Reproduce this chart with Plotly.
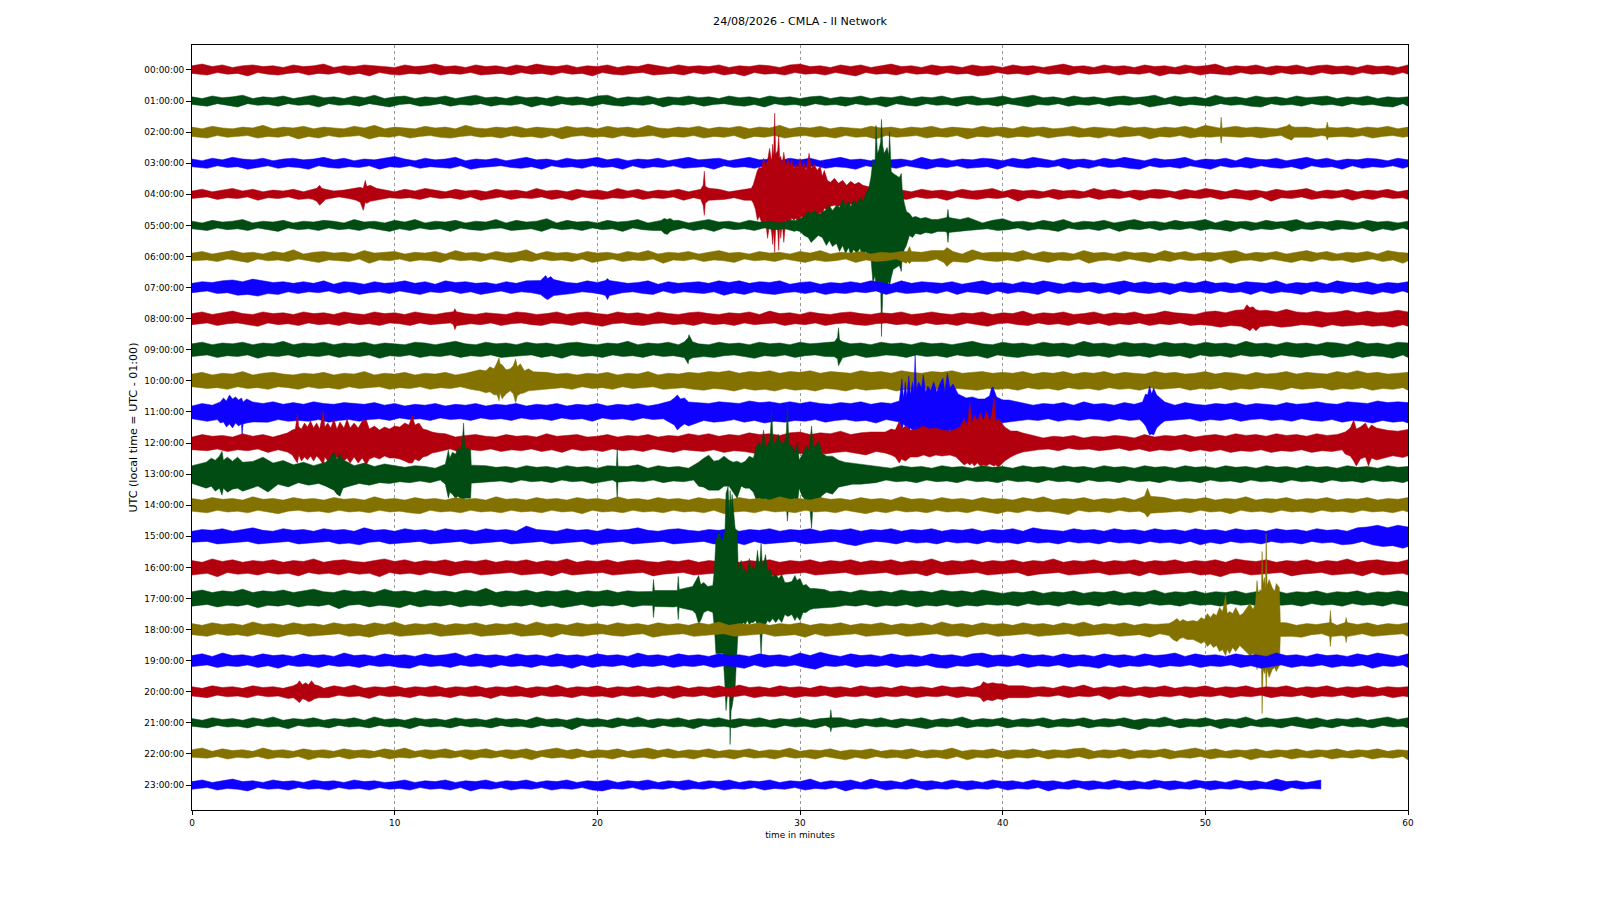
import plotly.graph_objects as go

title = "24/08/2026 - CMLA - II Network"
hour_labels = ["00:00:00", "01:00:00", "02:00:00", "03:00:00", "04:00:00", "05:00:00",
               "06:00:00", "07:00:00", "08:00:00", "09:00:00", "10:00:00", "11:00:00",
               "12:00:00", "13:00:00", "14:00:00", "15:00:00", "16:00:00", "17:00:00",
               "18:00:00", "19:00:00", "20:00:00", "21:00:00", "22:00:00", "23:00:00"]
minute_ticks = [0, 10, 20, 30, 40, 50, 60]
row_colors = ["#B2000F", "#004C12", "#847200", "#0E01FF"]

# envelope of each hour, one value per half minute (counts above / below the line)
up_00 = [5,7,4,6,3,5,6,4,5,3, 6,4,5,7,3,5,4,6,5,4, 3,6,4,5,7,4,5,3,6,4, 5,3,6,4,7,5,4,6,3,5, 4,6,3,5,4,7,5,3,6,4, 5,4,6,3,5,4,6,5,3,6, 7,4,5,3,6,4,6,3,5,7, 4,5,3,6,4,5,3,6,4,5, 3,6,4,5,3,5,7,4,5,3, 6,4,5,3,6,4,5,3,6,4, 5,7,3,5,4,6,3,5,4,6, 3,5,6,4,5,3,6,4,5,3,6]
lo_00 = [4,6,3,5,4,7,3,5,6,4, 3,6,4,5,3,6,4,7,3,5, 6,4,5,3,6,4,5,3,6,5, 4,6,3,5,4,6,3,5,4,7, 3,5,6,4,3,6,5,4,6,3, 5,3,6,4,7,3,5,4,6,3, 5,4,6,3,5,7,3,5,4,6, 3,5,4,6,3,5,4,7,6,3, 5,4,6,3,5,4,6,3,5,4, 3,6,4,5,3,7,4,5,3,6, 4,5,6,3,5,4,6,3,5,4, 6,3,5,4,6,3,5,4,6,3,5]
up_01 = [5,3,6,4,5,7,3,5,4,6, 3,5,7,4,5,3,6,4,7,3, 5,6,3,5,4,6,3,5,7,4, 5,3,6,4,5,3,6,4,5,3, 6,7,3,5,4,6,3,5,4,6, 4,5,3,6,4,5,3,6,4,5, 3,5,6,3,5,4,6,3,5,4, 6,3,5,4,6,3,5,6,3,4, 6,3,5,7,4,5,3,6,4,5, 3,5,6,4,5,7,3,6,4,5, 3,7,4,5,3,6,4,5,3,6, 4,5,6,3,5,4,6,3,5,4,5]
lo_01 = [4,6,3,5,7,3,5,4,6,3, 5,4,7,3,5,4,6,3,5,7, 4,3,6,5,3,6,4,5,3,6, 4,5,3,7,4,6,3,5,4,6, 3,5,6,4,5,3,7,4,5,3, 6,4,3,5,6,4,7,3,5,4, 6,3,5,4,6,3,5,4,7,3, 5,6,3,5,4,6,3,5,4,6, 3,5,7,4,5,3,6,4,5,3, 6,4,5,3,7,5,3,6,4,5, 6,3,5,4,6,7,3,5,4,6, 3,5,4,6,3,5,4,6,7,3,6]
up_02 = [6,4,7,5,4,6,5,8,4,6, 5,7,4,6,5,4,7,5,8,4, 6,5,4,7,5,6,4,8,5,4, 6,5,7,4,6,5,4,7,5,6, 4,7,5,6,4,8,5,4,6,5, 7,4,6,5,7,4,6,5,8,4, 6,5,7,4,6,5,4,7,5,6, 4,6,5,7,4,6,5,4,7,5, 6,4,7,5,6,4,5,7,4,6, 5,4,7,5,6,4,6,5,7,4, 8,5,4,7,5,6,5,4,9,5, 6,4,8,5,6,4,6,5,7,4,6]
lo_02 = [5,7,4,6,5,4,7,5,6,4, 8,5,7,4,6,5,4,8,5,6, 4,7,5,4,6,7,5,4,6,5, 7,4,6,5,7,4,8,5,4,6, 5,7,4,6,5,4,7,5,6,4, 7,5,6,4,8,5,6,4,7,5, 4,6,5,7,4,6,5,8,4,6, 5,4,7,5,6,4,8,5,6,4, 7,5,6,4,7,5,4,6,5,7, 4,6,5,4,8,5,6,4,7,5, 6,8,4,6,5,7,5,4,8,5, 6,4,8,5,6,4,7,5,4,6,5]
up_03 = [5,3,6,4,7,5,4,6,3,5, 6,4,5,7,4,6,3,5,4,6, 8,5,3,6,4,5,7,3,5,4, 6,3,5,7,4,5,3,6,4,5, 7,4,6,3,5,4,6,3,5,7, 4,5,6,3,5,7,4,5,3,6, 4,6,3,5,7,4,5,3,6,4, 5,3,7,4,6,3,5,4,6,5, 3,6,4,7,5,3,6,4,5,3, 6,4,7,5,3,6,4,5,7,3, 5,4,6,3,7,5,4,6,3,5, 7,4,6,3,5,4,6,5,3,6,4]
lo_03 = [4,6,3,5,4,7,5,3,6,4, 5,7,3,5,6,4,5,3,7,4, 5,3,6,4,5,6,3,7,5,4, 3,5,6,4,7,3,5,4,6,3, 5,4,7,3,6,4,5,3,6,5, 4,7,3,5,4,6,3,5,6,4, 5,3,6,4,5,7,3,5,4,6, 3,5,7,4,5,3,6,5,4,7, 3,5,6,4,5,3,7,4,6,3, 5,4,6,7,3,5,4,6,3,5, 7,3,5,4,6,3,5,6,4,7, 3,5,4,7,3,6,4,5,3,6,4]
up_04 = [4,6,3,5,7,4,6,3,5,4, 6,3,5,7,4,5,3,6,4,5, 3,6,4,7,5,3,6,4,5,3, 6,4,5,3,7,4,5,3,6,4, 5,3,7,4,6,3,5,4,6,3, 5,4,6,3,5,7,4,5,3,6, 7,6,8,5,9,5,7,5,6,4, 5,3,6,4,5,3,6,4,5,7, 3,6,4,5,3,6,4,5,3,7, 4,6,3,5,4,6,5,3,6,4, 7,5,3,6,4,5,3,6,4,5, 7,3,5,4,6,3,5,4,6,3,5]
lo_04 = [5,3,6,4,5,3,7,4,5,3, 6,5,4,6,3,5,7,3,6,4, 5,4,6,3,5,4,6,3,7,5, 3,6,4,5,3,6,4,7,3,5, 6,4,5,3,6,4,5,3,7,4, 5,3,6,4,7,3,5,4,6,3, 8,6,7,5,8,5,7,5,5,4, 6,3,5,4,7,3,5,6,4,5, 3,8,4,5,3,6,4,5,3,6, 4,5,3,7,4,5,3,6,4,5, 3,6,4,5,7,3,8,4,5,3, 6,4,5,3,7,4,6,3,5,4,6]
up_05 = [5,3,6,4,5,7,3,5,4,6, 3,5,4,6,5,3,7,4,5,3, 6,4,7,3,5,4,6,3,5,4, 7,3,6,4,5,8,3,6,4,5, 3,6,4,5,7,3,5,4,6,3, 5,7,4,5,3,6,4,5,3,6, 4,5,3,6,4,5,3,7,4,5, 5,4,6,3,5,4,6,5,3,6, 8,4,5,3,6,4,7,3,5,4, 6,3,5,7,4,5,3,6,4,5, 7,3,6,4,5,3,6,4,5,7, 3,5,4,6,5,3,6,4,5,3,5]
lo_05 = [4,6,3,5,4,6,3,5,7,3, 5,4,6,3,5,4,6,3,5,7, 4,6,3,5,4,7,3,5,6,4, 3,6,5,4,7,3,5,4,6,3, 5,4,7,3,5,6,4,5,3,6, 4,7,3,5,4,6,3,5,4,7, 3,6,4,5,3,6,4,5,3,6, 4,5,3,6,4,5,3,7,4,6, 5,3,6,4,5,7,3,5,4,6, 3,7,4,5,3,6,4,5,3,6, 4,5,7,3,6,4,5,3,7,4, 5,3,6,4,5,3,7,4,6,3,5]
up_06 = [4,6,3,5,7,4,5,3,6,4, 8,3,5,6,4,5,3,7,4,5, 6,3,5,4,6,3,7,4,5,3, 6,4,5,8,3,6,4,5,3,6, 4,5,3,6,4,7,3,5,4,6, 3,5,7,4,5,3,6,4,5,3, 6,4,7,3,5,4,6,3,5,4, 6,3,5,7,4,6,3,8,4,5, 5,4,7,3,6,4,5,3,7,4, 5,3,6,4,5,3,7,4,6,3, 5,4,6,7,3,5,4,6,3,5, 7,4,6,3,5,4,6,3,7,5,4]
lo_06 = [5,4,6,3,5,7,3,5,4,6, 3,5,7,4,5,6,3,8,4,5, 3,6,4,5,7,3,5,4,6,3, 5,7,4,6,3,5,4,6,3,7, 5,3,6,4,5,3,8,4,5,3, 6,4,5,7,3,5,4,6,3,5, 7,4,6,5,3,7,4,6,5,3, 8,4,6,3,5,4,7,3,5,6, 4,6,3,5,7,4,5,3,8,5, 4,6,3,5,7,4,6,3,5,4, 6,3,8,5,4,6,3,5,7,4, 6,3,5,4,7,5,3,6,4,8,5]
up_07 = [5,7,6,8,9,7,10,8,6,7, 5,7,5,8,4,7,6,4,7,5, 6,8,5,7,4,8,6,7,5,6, 4,7,5,8,6,7,4,6,5,8, 6,4,7,5,6,8,4,7,5,6, 7,5,8,6,8,5,7,6,8,4, 6,7,4,6,5,7,5,8,6,4, 8,5,7,6,5,7,4,6,8,5, 6,4,7,5,8,6,4,7,5,6, 4,6,8,5,7,5,6,4,7,5, 8,5,6,4,7,6,5,8,4,6, 5,7,4,8,6,5,7,4,6,5,7]
lo_07 = [6,4,7,6,9,8,10,7,8,5, 7,5,6,4,7,5,8,6,5,7, 4,6,8,5,6,4,7,5,8,6, 4,7,5,6,8,4,6,7,5,6, 8,4,6,5,7,8,4,7,5,6, 7,5,9,6,8,5,7,8,6,5, 7,5,8,6,7,5,6,4,8,5, 7,6,5,7,4,8,5,6,8,4, 7,5,6,8,4,7,5,6,4,7, 5,8,4,6,7,5,8,4,6,5, 7,4,6,5,8,4,7,5,6,8, 4,6,5,7,4,6,8,5,7,4,6]
up_08 = [6,8,5,7,9,6,5,8,6,7, 5,8,6,7,5,8,6,5,8,6, 7,5,8,6,5,7,9,6,5,7, 6,5,8,7,5,6,8,5,7,8, 6,5,8,6,7,5,8,6,5,7, 8,6,5,7,6,8,5,9,6,7, 5,8,6,5,7,8,6,5,7,6, 8,5,6,8,6,5,7,6,8,5, 7,6,9,5,7,6,8,5,6,8, 5,7,6,8,5,6,9,7,6,5, 8,9,7,10,9,7,10,8,11,8, 7,9,7,8,10,7,9,7,8,10,8]
lo_08 = [7,5,8,6,5,7,9,5,7,6, 8,5,7,6,8,5,7,6,8,5, 6,8,5,7,6,5,8,6,7,5, 8,6,5,7,8,5,6,8,5,7, 9,6,5,7,8,6,5,7,6,8, 5,7,6,8,5,7,6,5,8,6, 7,5,8,6,5,7,8,6,5,7, 6,8,5,7,6,8,5,7,9,6, 5,7,8,5,7,6,8,5,7,5, 8,6,7,5,8,6,7,5,8,7, 8,10,8,9,7,9,8,10,9,7, 8,10,7,9,8,7,9,8,10,7,9]
up_09 = [7,9,6,8,7,9,6,8,7,10, 6,8,7,9,6,8,7,9,6,8, 7,6,9,8,6,8,10,7,6,9, 7,8,6,9,7,8,6,8,9,7, 6,8,7,10,6,8,7,9,6,8, 7,6,9,7,8,6,9,7,8,6, 9,7,8,6,9,7,8,6,9,7, 8,6,9,7,8,6,8,10,7,6, 9,7,8,6,9,7,8,6,10,7, 8,6,9,7,8,6,9,7,8,6, 9,7,8,6,10,7,8,6,9,7, 8,6,9,8,6,10,7,8,6,9,8]
lo_09 = [8,6,9,7,8,6,10,7,8,6, 9,7,8,6,9,7,8,6,10,7, 8,6,9,7,8,6,9,7,8,6, 9,8,7,6,9,7,10,6,8,7, 9,6,8,7,9,6,8,7,9,6, 8,9,7,6,8,10,7,8,6,9, 7,6,8,9,7,6,9,8,6,7, 9,6,8,7,9,6,8,7,10,6, 8,9,7,6,8,7,9,6,8,7, 9,6,8,7,9,6,8,7,10,6, 8,7,9,6,8,7,9,6,8,9, 7,6,9,8,6,9,7,8,10,6,9]
up_10 = [8,10,7,9,8,11,7,9,10,8, 7,9,8,10,7,9,8,11,7,9, 8,10,7,9,8,10,7,9,11,8, 7,10,8,9,7,10,8,9,7,9, 8,10,7,9,8,11,7,9,8,10, 9,11,10,12,9,11,10,12,9,11, 10,12,9,11,10,9,12,10,11,9, 12,10,9,11,10,12,9,10,11,9, 10,9,11,8,10,9,11,8,10,9, 11,8,10,9,8,11,9,10,8,9, 11,8,10,9,7,10,8,9,11,8, 10,9,8,11,9,12,9,10,8,9,10]
lo_10 = [7,9,8,10,7,9,8,10,7,8, 10,7,9,8,10,7,9,8,7,10, 8,9,7,10,8,9,7,10,8,9, 7,9,10,8,7,9,8,10,7,9, 8,10,7,9,8,7,10,9,8,10, 11,9,10,12,9,11,10,12,9,11, 10,12,9,10,12,9,11,10,9,12, 10,11,9,10,12,9,10,11,9,10, 9,11,8,10,9,11,8,10,9,11, 8,10,9,11,8,10,9,8,11,9, 10,8,11,9,10,8,9,11,8,10, 9,8,11,9,10,8,11,9,10,8,11]
up_11 = [7,10,8,11,9,12,11,10,12,9, 11,9,12,10,9,11,10,9,11,8, 10,7,9,8,10,7,9,8,10,7, 9,8,10,7,9,8,10,7,9,8, 10,7,9,8,10,7,9,8,10,7, 11,10,12,11,10,13,11,12,10,12, 10,12,10,9,11,10,12,9,11,10, 9,11,10,12,9,13,10,9,11,10, 10,9,11,8,10,9,11,8,12,9, 10,8,11,9,8,10,9,8,11,9, 8,10,9,11,8,10,9,8,11,9, 10,12,10,9,12,11,10,13,11,12,11]
lo_11 = [8,11,9,12,10,11,10,12,9,11, 10,11,9,12,10,9,11,9,8,10, 7,9,8,10,7,9,8,10,7,9, 8,10,7,9,8,10,7,9,8,11, 7,9,8,10,7,9,8,10,7,9, 10,12,11,9,12,10,13,11,12,10, 11,9,12,10,9,11,10,13,9,11, 10,9,12,10,11,9,13,10,11,9, 8,11,9,10,8,11,9,10,8,9, 11,8,10,9,11,8,10,9,8,11, 9,10,8,11,9,8,10,9,11,8, 10,11,9,12,10,11,13,10,12,11,13]
up_12 = [7,10,8,9,7,11,8,10,7,9, 8,10,7,9,11,8,10,7,9,8, 8,10,7,9,8,11,7,9,10,8, 7,10,8,9,7,11,8,9,10,7, 8,10,7,9,8,10,7,9,8,11, 9,11,8,10,9,12,10,11,9,12, 13,10,12,11,14,10,12,13,10,12, 10,9,11,8,10,9,11,7,9,8, 6,8,7,9,6,8,7,9,6,8, 7,9,8,6,10,7,9,8,10,7, 9,10,8,11,9,10,8,11,9,10, 8,11,9,10,8,11,10,13,15,14,16]
lo_12 = [8,9,7,10,8,9,7,11,8,9, 7,10,8,9,7,10,8,9,7,10, 9,7,10,8,9,7,11,8,9,7, 10,8,9,7,10,8,11,7,9,8, 10,7,9,8,10,7,9,11,8,9, 10,8,11,9,10,12,9,11,10,13, 12,10,13,11,10,12,14,10,12,11, 11,9,10,8,11,9,10,7,9,8, 7,9,6,8,7,9,6,8,7,9, 8,6,9,7,10,8,9,7,10,8, 10,8,11,9,10,8,11,9,10,8, 11,9,10,8,11,9,10,12,15,17,15]
up_13 = [10,14,12,16,14,18,15,20,13,16, 11,14,10,12,9,11,10,13,9,12, 10,8,10,9,7,10,8,9,7,10, 8,9,7,10,8,9,7,10,8,9, 7,10,8,9,11,7,10,8,9,7, 10,8,9,7,10,11,9,12,10,13, 11,9,12,10,9,11,8,10,9,7, 10,8,9,7,10,8,9,7,10,8, 9,7,10,8,9,7,10,8,9,7, 10,8,9,7,10,8,9,7,10,8, 9,7,10,8,9,7,10,8,9,7, 10,8,9,7,10,8,9,7,10,8,9]
lo_13 = [11,15,13,17,15,19,14,21,12,15, 10,13,11,12,10,12,11,13,10,11, 9,10,8,10,7,9,8,10,7,9, 8,10,7,9,8,10,7,9,8,11, 9,7,10,8,9,7,10,8,9,7, 10,8,9,7,10,11,8,12,9,13, 11,8,11,9,10,8,9,10,7,9, 8,10,7,9,8,10,7,9,8,10, 7,9,8,10,7,9,8,10,7,9, 8,10,7,9,8,10,7,9,8,10, 7,9,8,10,7,9,8,10,7,9, 8,10,7,9,8,10,7,9,8,10,8]
up_14 = [8,6,9,7,8,6,10,7,8,6, 9,7,8,6,9,7,8,6,10,7, 8,6,9,7,8,6,9,7,8,6, 10,7,8,6,9,7,8,6,9,7, 8,6,10,7,8,6,9,7,8,6, 9,7,8,6,9,7,8,6,10,7, 8,6,9,7,8,6,9,7,8,6, 10,7,8,6,9,7,8,6,9,7, 8,6,9,7,10,6,8,7,9,6, 8,7,9,6,8,7,9,6,8,7, 9,6,8,7,10,6,8,7,9,6, 8,7,9,6,8,7,9,6,8,7,9]
lo_14 = [7,9,6,8,7,9,6,8,10,7, 6,8,7,9,6,8,7,9,6,8, 7,9,10,6,8,7,9,6,8,7, 9,6,8,7,9,6,8,7,10,6, 8,7,9,6,8,7,9,6,8,7, 9,6,10,8,7,9,6,8,7,9, 6,8,7,9,6,8,10,7,9,6, 8,7,9,6,8,7,9,6,8,10, 7,9,6,8,7,9,11,6,8,7, 9,6,8,7,9,6,8,7,9,6, 8,7,10,6,8,7,9,6,8,7, 9,6,8,7,9,6,8,7,9,6,8]
up_15 = [6,8,7,9,6,8,10,7,6,9, 7,8,6,9,7,8,6,10,7,8, 6,9,7,8,6,9,7,8,6,9, 7,8,6,12,8,7,6,9,7,8, 6,9,7,8,10,7,6,8,9,7, 6,8,7,9,6,8,7,9,6,8, 7,9,6,8,7,9,6,8,7,9, 6,8,7,9,6,8,7,9,6,8, 7,9,6,10,8,7,6,9,7,8, 6,9,7,8,6,9,7,8,6,9, 7,8,6,9,7,8,6,9,7,8, 6,9,7,8,6,10,11,13,10,13,11]
lo_15 = [7,6,9,8,7,6,9,8,7,6, 9,8,7,6,9,8,10,7,6,9, 8,7,6,9,8,7,6,9,8,7, 6,9,8,7,6,9,8,7,6,10, 8,7,6,9,8,7,6,9,8,7, 6,9,8,7,10,6,9,8,7,6, 9,8,7,6,9,11,8,6,7,9, 6,8,7,9,6,8,7,9,6,8, 7,9,6,8,7,9,6,8,7,9, 6,8,7,9,6,8,7,9,6,10, 7,9,6,8,7,9,6,8,7,9, 6,8,7,10,9,6,10,12,11,14,12]
up_16 = [8,6,10,7,9,6,8,7,9,6, 8,7,10,6,8,9,7,6,8,10, 7,9,6,8,7,9,6,8,7,9, 6,8,7,9,6,8,7,10,6,8, 7,9,6,8,9,7,6,8,7,9, 6,8,7,10,6,8,7,9,6,8, 7,9,6,8,7,9,6,8,7,9, 6,8,7,10,6,8,7,9,6,8, 7,9,6,8,7,10,6,8,7,9, 6,8,7,9,6,8,7,9,6,8, 7,9,6,10,8,7,9,6,8,7, 9,6,8,7,10,6,8,9,7,6,9]
lo_16 = [9,7,11,6,8,7,9,6,8,7, 10,6,8,7,9,6,8,7,11,6, 8,7,9,6,8,10,7,6,9,8, 7,6,9,8,7,10,6,9,8,7, 6,9,8,7,6,10,8,7,6,9, 8,7,6,9,8,7,6,10,8,7, 6,9,8,7,6,9,8,7,6,9, 8,7,10,6,9,8,7,6,9,8, 7,6,10,8,7,6,9,8,7,6, 9,8,7,10,6,9,8,7,6,9, 8,11,7,6,9,8,7,6,10,8, 7,6,9,8,7,10,6,9,8,7,9]
up_17 = [8,10,7,9,8,11,7,9,8,10, 7,9,11,8,7,10,8,9,7,11, 8,9,7,10,8,9,7,10,8,12, 7,9,8,10,7,9,8,10,7,9, 8,10,7,9,8,11,7,9,8,10, 7,9,8,10,7,9,8,7,10,8, 9,7,10,8,9,7,10,8,9,7, 10,8,9,7,10,8,9,7,10,8, 6,8,7,9,6,8,7,9,6,8, 7,9,6,8,7,10,6,8,7,9, 6,8,7,9,6,8,7,9,6,8, 7,9,6,8,7,9,6,8,7,9,7]
lo_17 = [9,7,10,8,9,7,11,8,9,7, 10,8,9,7,12,8,7,10,8,9, 11,7,10,8,9,7,10,8,9,7, 10,8,9,7,10,8,11,9,7,10, 8,9,7,10,8,9,7,10,8,9, 7,10,8,7,9,10,8,9,7,10, 8,9,7,10,8,9,7,10,8,9, 7,10,8,9,7,10,8,9,7,8, 7,9,6,8,7,9,6,8,7,9, 6,8,7,9,6,8,7,9,6,8, 7,9,6,8,7,10,6,8,7,9, 6,8,7,9,6,8,7,9,6,8,9]
up_18 = [7,5,8,6,7,5,9,6,7,5, 8,6,7,5,8,6,7,5,8,6, 9,5,7,6,8,5,7,6,8,5, 7,6,8,5,9,6,7,5,8,6, 7,5,8,6,7,5,8,6,7,5, 8,6,9,5,7,6,8,5,7,6, 8,5,7,6,8,5,7,6,8,5, 7,6,8,5,9,6,7,5,8,6, 7,5,8,6,7,5,8,6,9,5, 7,6,8,5,7,6,8,5,7,6, 8,5,7,6,8,5,7,6,8,5, 7,6,8,5,7,6,8,5,7,6,8]
lo_18 = [6,8,5,7,6,8,5,7,9,6, 5,8,7,6,5,8,7,9,6,5, 8,7,6,5,8,7,6,5,8,7, 6,5,8,7,6,9,5,7,8,6, 5,7,8,6,5,9,7,6,5,8, 7,6,5,8,7,6,5,8,7,6, 9,5,8,7,6,5,8,7,6,5, 8,7,6,5,8,7,9,6,5,8, 7,6,5,8,7,6,5,8,7,6, 5,8,7,6,9,5,8,7,6,5, 8,7,6,5,8,7,6,5,8,9, 6,5,8,7,6,5,8,7,6,5,8]
up_19 = [6,8,5,9,6,7,5,8,6,7, 5,8,6,7,5,9,6,7,5,8, 6,7,5,8,6,7,9,5,8,6, 7,5,8,6,7,5,8,6,7,5, 8,6,7,5,9,6,7,5,8,6, 7,5,8,6,7,5,8,6,7,5, 9,6,10,7,5,8,6,7,5,8, 6,7,5,8,6,7,5,8,9,6, 7,5,8,6,7,5,8,6,7,5, 8,6,7,5,8,6,7,9,5,8, 6,7,5,8,6,7,5,9,6,7, 5,8,6,7,5,8,6,9,7,5,8]
lo_19 = [7,5,8,6,7,5,8,6,9,5, 7,6,8,5,7,6,8,5,7,6, 8,9,5,7,6,8,5,7,6,8, 5,7,6,8,5,7,6,9,5,8, 6,7,5,8,6,7,5,8,6,7, 5,8,6,7,9,5,8,6,7,5, 8,10,6,7,5,8,6,7,5,8, 6,7,5,8,9,6,7,5,8,6, 7,5,8,6,7,5,8,6,7,9, 5,8,6,7,5,8,6,7,5,8, 6,7,5,8,6,9,7,5,8,6, 7,5,8,6,7,5,9,6,7,5,8]
up_20 = [6,4,7,5,6,4,7,5,6,4, 7,5,6,4,7,5,8,4,6,5, 7,4,6,5,7,4,6,5,7,4, 6,5,7,4,6,5,8,4,6,5, 7,4,6,5,7,4,6,5,7,4, 6,5,7,4,8,5,6,4,7,5, 6,4,7,5,6,4,7,5,6,4, 7,5,6,4,7,5,6,4,6,5, 6,4,7,5,6,4,7,5,8,4, 6,5,7,4,6,5,7,4,6,5, 7,4,6,5,7,4,6,5,7,4, 6,5,7,4,6,5,7,4,6,5,6]
lo_20 = [5,7,4,6,5,7,4,6,5,8, 4,6,5,7,4,6,5,8,4,6, 5,7,4,6,5,7,4,6,5,8, 4,6,5,7,4,6,5,7,4,6, 5,7,4,6,5,7,4,8,5,6, 4,7,5,6,4,7,5,6,4,7, 5,6,4,7,5,6,4,7,5,6, 4,7,5,6,4,7,5,6,7,5, 6,4,7,5,6,4,7,5,6,4, 9,5,6,4,7,5,6,4,7,5, 6,4,7,5,6,4,7,5,6,4, 7,5,6,4,7,5,6,4,7,5,6]
up_21 = [5,3,6,4,5,3,6,4,7,3, 5,4,6,3,5,4,6,3,7,4, 5,3,6,4,5,3,6,4,5,3, 6,4,5,3,7,4,5,3,6,4, 5,3,6,4,7,3,5,4,6,3, 5,4,6,3,5,4,6,3,5,4, 6,3,5,4,6,3,5,4,6,3, 5,4,6,3,5,4,7,3,5,4, 6,3,5,4,6,3,5,4,6,3, 5,4,6,3,5,4,7,3,5,4, 6,3,5,4,7,3,6,4,5,7, 4,6,3,5,4,6,3,5,7,4,6]
lo_21 = [4,6,3,5,4,6,3,5,4,7, 3,5,4,6,3,5,4,6,3,5, 4,7,3,5,4,6,3,5,4,6, 3,5,4,6,3,5,4,8,3,5, 4,6,3,5,4,6,3,5,4,7, 3,5,4,6,3,5,4,6,3,5, 4,6,3,5,4,6,3,5,4,6, 3,5,7,4,5,3,6,4,5,3, 6,4,5,3,6,4,5,3,6,4, 5,3,6,8,4,5,3,6,4,5, 3,7,4,6,3,5,4,6,3,5, 7,4,6,3,5,4,6,3,5,4,6]
up_22 = [5,7,3,6,4,5,3,7,4,5, 3,6,4,5,3,6,4,5,3,6, 4,7,3,5,4,6,3,5,4,6, 3,5,4,6,3,5,7,4,6,3, 5,4,6,3,5,7,4,6,3,5, 4,6,3,5,4,6,3,5,4,7, 3,5,4,6,3,5,4,6,3,5, 4,6,3,5,4,7,3,5,4,6, 3,5,4,6,3,5,4,6,7,3, 5,4,6,3,5,4,6,3,5,7, 4,6,3,5,4,6,3,5,4,6, 3,5,4,6,3,5,4,6,3,5,4]
lo_22 = [4,5,3,6,4,5,3,6,4,5, 3,7,4,5,3,6,4,5,3,6, 4,5,3,6,4,5,3,7,4,5, 3,6,4,7,3,5,4,6,3,5, 4,6,3,5,4,6,3,5,4,6, 3,5,4,6,3,5,4,6,3,5, 4,6,3,5,7,4,6,3,5,4, 6,3,5,4,6,3,7,4,5,3, 6,4,5,3,6,4,5,3,6,4, 5,3,6,4,5,3,6,4,5,3, 6,4,5,3,7,4,5,3,6,4, 5,3,6,4,5,3,6,4,5,3,7]
up_23 = [4,6,3,5,7,4,5,3,6,4, 5,3,6,4,5,3,6,4,5,3, 4,6,3,5,4,6,3,5,4,6, 3,5,4,6,3,5,4,6,3,5, 4,6,3,5,4,6,3,5,4,6, 3,5,4,6,3,5,4,6,3,5, 4,7,3,5,4,6,3,7,4,5, 3,7,4,5,3,6,4,5,3,6, 4,5,3,6,4,5,3,6,4,5, 3,6,4,5,3,6,4,5,3,6, 4,5,3,6,4,5,3,7,4,5, 3,5]
lo_23 = [5,3,6,4,5,7,3,5,4,6, 3,5,4,6,3,5,4,6,3,5, 4,6,3,5,4,6,3,7,4,5, 3,6,4,5,3,6,4,5,3,6, 7,4,5,3,6,4,5,3,6,4, 5,3,6,4,5,3,6,4,5,3, 6,4,5,3,7,4,5,3,6,4, 5,3,6,4,5,3,6,4,5,3, 6,4,5,3,7,4,5,3,6,4, 5,3,6,4,5,3,6,4,5,3, 6,4,5,3,6,4,5,7,3,5, 4,4]

# burst detail between the half minute samples: (minute, above, below)
burst_02 = [(50.74,4,4),(50.78,15,11),(50.83,4,4), (54,6,6),(54.15,8,7),(54.25,6,8),(54.4,5,5), (55.95,4,4),(56.02,10,8),(56.07,5,5)]
burst_04 = [(5.95,5,5),(6.15,6,7),(6.3,9,11),(6.4,6,9),(6.6,5,5), (8.1,6,6),(8.3,7,8),(8.45,6,16),(8.55,14,8),(8.62,8,9),(8.8,9,7),(9.1,6,6),
            (25.1,5,5),(25.22,9,11),(25.28,23,21),(25.33,8,9),(25.5,6,6),
            (27.6,6,6),(27.7,10,9),(27.8,18,15),(27.9,24,26),(28.0,27,22),(28.1,26,28),(28.2,36,30),(28.3,29,26),(28.4,34,44),(28.5,46,30),
            (28.6,32,38),(28.65,50,50),(28.7,38,36),(28.75,81,58),(28.8,40,34),(28.9,44,36),(28.95,59,56),(29.0,36,30),(29.05,38,44),(29.12,30,28),
            (29.2,42,48),(29.3,28,26),(29.4,36,30),(29.5,28,28),(29.6,34,24),(29.7,26,26),(29.8,30,24),(29.9,26,28),(30.0,36,24),(30.1,26,22),
            (30.2,32,26),(30.3,24,20),(30.45,41,24),(30.55,26,22),(30.7,30,20),(30.85,24,22),(31.0,28,18),(31.1,18,20),(31.2,24,14),(31.35,14,16),
            (31.5,12,12),(31.7,16,11),(31.9,11,12),(32.1,14,10),(32.3,9,11),(32.5,13,10),(32.7,10,9),(32.9,12,10),(33.1,9,8),(33.3,8,7),(33.6,6,6),(33.9,5,5)]
burst_05 = [(23.15,5,5),(23.3,7,8),(23.45,6,9),(23.6,7,6),(23.75,5,5),
            (29.8,5,5),(30.0,7,6),(30.2,9,10),(30.4,14,12),(30.55,12,17),(30.7,15,14),(30.9,11,10),(31.1,13,12),(31.3,16,20),(31.45,20,15),(31.6,15,21),
            (31.8,20,18),(31.95,18,26),(32.1,26,20),(32.25,20,28),(32.4,24,22),(32.5,19,30),(32.65,25,24),(32.8,22,28),(32.95,28,23),(33.1,24,30),(33.25,32,26),
            (33.4,38,30),(33.5,48,32),(33.6,66,58),(33.7,60,50),(33.75,100,62),(33.82,72,58),(33.9,76,64),(33.98,84,60),(34.02,106,111),(34.08,80,70),
            (34.15,72,58),(34.3,78,60),(34.38,70,56),(34.42,94,60),(34.5,54,52),(34.6,52,44),(34.75,50,42),(34.9,48,40),(35.0,52,46),(35.05,34,30),(35.15,22,24),
            (35.25,14,20),(35.4,12,10),(35.55,8,12),(35.7,9,8),(35.95,7,9),(36.2,8,7),(36.5,6,8),(36.8,6,6),(37.15,7,6),(37.25,8,7),(37.3,16,17),(37.35,8,7),(37.6,7,6),(37.9,6,6),(38.3,8,5)]
burst_06 = [(35.3,5,5),(35.4,10,7),(35.5,5,5), (37.1,6,6),(37.25,9,10),(37.4,7,7),(37.55,5,5)]
burst_07 = [(17.2,7,7),(17.35,10,9),(17.45,12,11),(17.55,9,12),(17.7,11,10),(17.85,8,8), (20.4,7,8),(20.5,9,12),(20.6,7,8)]
burst_08 = [(12.9,7,6),(12.97,10,11),(13.05,7,7), (51.9,9,9),(52.05,14,10),(52.2,11,12),(52.35,12,9),(52.5,9,12),(52.7,8,8)]
burst_09 = [(24.3,8,8),(24.48,12,14),(24.52,15,10),(24.7,8,8), (31.7,8,7),(31.85,12,9),(31.9,22,16),(31.95,10,14),(32.1,8,8)]
burst_10 = [(14.2,11,10),(14.5,10,12),(14.7,14,11),(14.9,12,14),(15.05,18,14),(15.15,23,20),(15.2,17,12),(15.3,16,18),(15.5,11,13),(15.7,12,10),(15.85,15,13),(15.97,22,22),
            (16.05,14,15),(16.2,17,13),(16.4,10,12),(16.6,12,10),(16.85,9,9)]
burst_11 = [(1.4,10,11),(1.55,14,10),(1.7,11,15),(1.85,17,12),(2.0,13,16),(2.15,15,11),(2.3,12,14),(2.44,14,12),(2.47,12,24),(2.52,10,12),(2.7,13,11),(3.0,10,10),
            (23.6,11,11),(23.8,14,13),(23.95,17,18),(24.1,13,15),(24.3,14,12),(24.5,10,14),
            (34.9,11,10),(35.03,33,18),(35.1,14,12),(35.2,30,14),(35.27,16,16),(35.37,36,20),(35.45,18,16),(35.55,30,18),(35.62,20,20),(35.68,57,18),(35.75,22,22),(35.85,30,20),(36.0,24,16),
            (36.08,37,22),(36.2,20,18),(36.3,26,24),(36.45,22,18),(36.6,30,20),(36.75,20,22),(36.9,28,18),(37.05,34,24),(37.15,20,20),(37.27,39,22),(37.4,24,18),(37.55,28,21),(37.8,18,20),
            (38.0,16,15),(38.2,14,16),(38.5,15,12),(38.8,13,12),(39.1,13,13),(39.35,16,11),(39.45,24,13),(39.52,25,12),(39.7,15,12),(40.0,12,11),(40.3,12,10),
            (46.9,10,10),(47.05,18,14),(47.15,17,18),(47.25,26,23),(47.35,18,22),(47.45,24,23),(47.6,17,16),(47.8,13,12),(48,10,9)]
burst_12 = [(4.7,10,9),(4.95,13,12),(5.1,14,17),(5.2,29,20),(5.27,16,12),(5.4,14,18),(5.55,20,14),(5.7,16,17),(5.85,22,13),(6.0,15,18),(6.15,20,13),(6.3,14,16),(6.48,32,22),(6.55,16,14),(6.7,20,18),
            (6.85,15,14),(7.0,24,18),(7.15,14,14),(7.3,21,16),(7.5,15,18),(7.65,24,15),(7.8,15,20),(8.0,20,14),(8.2,15,20),(8.4,22,15),(8.6,23,22),(8.75,14,16),(9.0,17,14),(9.25,13,16),
            (9.5,16,13),(9.75,14,15),(10.0,17,15),(10.25,16,16),(10.5,20,18),(10.7,18,20),(10.87,27,20),(11.0,18,16),(11.2,20,18),(11.4,14,14),(11.6,13,13),(11.85,11,10),(12.1,10,9),
            (34.2,11,10),(34.5,14,12),(34.7,13,14),(34.9,22,20),(35.0,14,16),(35.2,17,18),(35.45,13,14),(35.8,14,14),(36.1,17,12),(36.4,14,14),(36.7,15,12),(37,13,13),(37.4,12,12),(37.7,14,14),
            (37.9,16,18),(38.1,24,22),(38.25,18,20),(38.38,40,22),(38.48,20,20),(38.6,28,23),(38.75,22,20),(38.9,30,23),(39.05,22,22),(39.2,32,23),(39.35,22,21),(39.45,28,22),(39.58,45,23),(39.65,22,22),
            (39.8,24,24),(40.1,16,18),(40.4,12,14),(40.7,12,11),(41,10,9),
            (56.9,11,11),(57.15,15,13),(57.32,23,18),(57.45,14,23),(57.65,16,16),(57.9,20,14),(58.05,14,23),(58.2,18,15),(58.45,15,17)]
burst_13 = [(0.7,12,14),(0.95,16,12),(1.15,14,17),(1.35,18,14),(1.48,23,21),(1.55,14,14),(1.75,17,18),(2,13,15),(2.25,17,14),(2.5,12,17),
            (6.6,12,12),(6.8,16,14),(7,22,16),(7.15,15,20),(7.3,20,22),(7.45,14,14),(7.6,13,13),
            (12.5,10,10),(12.65,24,24),(12.72,16,18),(12.85,22,20),(13,20,24),(13.12,26,22),(13.25,24,24),(13.33,30,26),(13.4,51,26),(13.46,26,24),(13.6,26,24),(13.75,24,24),(13.78,9,9),
            (20.94,8,8),(20.98,26,26),(21.02,8,8),
            (25,12,12),(25.25,16,13),(25.5,19,16),(25.75,13,16),(26,14,16),(26.25,18,12),(26.5,14,12),(26.7,12,18),(26.9,13,24),(27.1,11,12),(27.3,13,14),(27.5,18,14),(27.7,16,18),(27.85,28,26),
            (28.0,32,24),(28.1,26,26),(28.2,44,26),(28.3,26,24),(28.4,30,28),(28.52,34,26),(28.6,63,26),(28.68,30,26),(28.8,32,28),(28.92,40,30),(29,34,28),(29.2,30,28),(29.32,38,30),(29.38,71,47),(29.45,30,28),
            (29.6,28,26),(29.75,22,24),(29.88,32,28),(29.96,14,14),(30.1,20,22),(30.2,24,24),(30.32,28,30),(30.45,24,26),(30.57,48,54),(30.65,26,28),(30.8,30,30),(30.95,33,30),(31.05,22,22),(31.3,18,18),
            (31.6,18,20),(31.9,14,13),(32.2,12,12),(32.6,11,10),(33,10,10)]
burst_14 = [(47.0,9,8),(47.15,17,12),(47.3,9,8)]
burst_17 = [(22.73,7,7),(22.77,19,19),(22.82,8,8), (23.95,8,8),(23.99,22,21),(24.04,9,9),
            (24.7,12,12),(24.85,17,15),(25,23,25),(25.1,14,22),(25.25,16,14),(25.45,12,12),(25.7,13,14),(25.78,30,30),(25.85,58,55),(26.0,66,55),(26.1,60,55),(26.2,58,55),(26.3,68,88),
            (26.35,105,112),(26.45,112,90),(26.52,80,100),(26.55,108,146),(26.6,90,112),(26.65,104,108),(26.8,70,88),(26.9,68,55),(26.95,30,30),(27.1,38,28),(27.2,26,24),(27.3,30,26),(27.4,24,22),
            (27.5,40,26),(27.6,26,24),(27.7,34,24),(27.8,26,22),(27.9,48,26),(28.0,30,24),(28.08,55,57),(28.15,30,28),(28.3,44,26),(28.4,26,22),(28.5,30,24),(28.65,22,20),(28.8,24,24),
            (28.95,20,20),(29.1,24,24),(29.25,16,16),(29.4,16,18),(29.6,17,16),(29.75,23,22),(29.85,18,18),(30,20,22),(30.15,13,14),(30.3,14,14),(30.5,10,11),(30.7,10,10),(31.2,9,9)]
burst_18 = [(48.2,6,6),(48.4,8,10),(48.6,11,12),(48.75,8,9),(48.9,10,8),(49.1,8,10),(49.4,9,10),(49.6,8,12),(49.8,12,14),(49.95,10,12),(50.1,16,17),(50.25,12,14),(50.4,16,18),(50.55,14,16),
            (50.7,22,22),(50.85,18,20),(51,34,26),(51.08,16,20),(51.2,18,24),(51.35,16,18),(51.5,22,22),(51.7,14,16),(51.85,16,18),(52,20,22),(52.2,26,26),(52.35,20,24),(52.48,26,27),(52.55,49,40),
            (52.62,34,32),(52.7,40,38),(52.77,38,36),(52.8,78,84),(52.85,46,40),(52.92,52,44),(52.97,40,38),(53,96,60),(53.05,44,40),(53.15,50,48),(53.3,42,40),(53.42,38,38),(53.5,46,42),(53.65,42,36),(53.7,7,7),
            (56.13,7,7),(56.17,19,17),(56.22,7,7), (56.9,7,7),(56.95,12,13),(57,7,7)]
burst_20 = [(5,6,6),(5.2,8,9),(5.3,11,11),(5.45,7,7),(5.6,9,8),(5.75,7,10),(5.9,11,9),(6.05,7,7),(6.25,6,6), (38.9,6,6),(39.05,10,10),(39.25,8,8),(39.5,9,9),(39.75,8,7),(40,8,8),(40.3,6,6)]
burst_21 = [(31.48,5,5),(31.52,13,9),(31.57,5,5)]
burst_23 = [(55.7,5,4)]

half_minutes = [m / 2 for m in range(121)]
rows_up = [up_00, up_01, up_02, up_03, up_04, up_05, up_06, up_07, up_08, up_09, up_10, up_11,
           up_12, up_13, up_14, up_15, up_16, up_17, up_18, up_19, up_20, up_21, up_22, up_23]
rows_lo = [lo_00, lo_01, lo_02, lo_03, lo_04, lo_05, lo_06, lo_07, lo_08, lo_09, lo_10, lo_11,
           lo_12, lo_13, lo_14, lo_15, lo_16, lo_17, lo_18, lo_19, lo_20, lo_21, lo_22, lo_23]
bursts = {2: burst_02, 4: burst_04, 5: burst_05, 6: burst_06, 7: burst_07, 8: burst_08, 9: burst_09,
          10: burst_10, 11: burst_11, 12: burst_12, 13: burst_13, 14: burst_14, 17: burst_17,
          18: burst_18, 20: burst_20, 21: burst_21, 23: burst_23}

counts_per_row = 31.09  # one hour row on the y axis
quiet_gain = 0.85  # the half minute samples came out a bit fat against the reference
lower_shift = 0.25  # lower edge sampled between the upper edge samples


def row_edges(i):
    # half minute samples, dropping the ones that sit right on a burst
    burst = bursts.get(i, [])
    quiet = [(m, u, l) for m, u, l in zip(half_minutes, rows_up[i], rows_lo[i])
             if all(abs(m - b[0]) >= 0.25 for b in burst)]
    top = [(m, i - u * quiet_gain / counts_per_row) for m, u, l in quiet]
    bottom = [(m + lower_shift if 0 < m < 60 else m, i + l * quiet_gain / counts_per_row)
              for m, u, l in quiet]
    top += [(t, i - u / counts_per_row) for t, u, l in burst]
    bottom += [(t, i + l / counts_per_row) for t, u, l in burst]
    return sorted(top), sorted(bottom)


fig = go.Figure()

for i, label in enumerate(hour_labels):
    top, bottom = row_edges(i)
    pts = top + bottom[::-1]
    color = row_colors[i % 4]
    fig.add_trace(go.Scatter(
        x=[p[0] for p in pts],
        y=[p[1] for p in pts],
        mode="lines",
        fill="toself",
        fillcolor=color,
        line=dict(color=color, width=0.5),
        hoverinfo="skip",
        showlegend=False,
    ))

fig.update_layout(
    width=1600,
    height=900,
    autosize=False,
    paper_bgcolor="white",
    plot_bgcolor="white",
    margin=dict(l=192, r=192, t=45, b=90),
    font=dict(family="DejaVu Sans", color="black"),
    title=dict(text=title, x=0.5, xanchor="center", y=1 - 21.5 / 900, yanchor="middle",
               font=dict(size=11.1, color="black")),
)
fig.update_xaxes(
    range=[0, 60],
    tickvals=minute_ticks,
    ticks="outside",
    ticklen=4,
    tickwidth=1,
    tickcolor="black",
    tickfont=dict(size=8.9),
    showgrid=True,
    gridcolor="#999999",
    gridwidth=0.6,
    griddash="dot",
    zeroline=False,
    showline=True,
    linecolor="black",
    linewidth=1,
    mirror=True,
    title=dict(text="time in minutes", font=dict(size=8.9), standoff=5),
)
fig.update_yaxes(
    range=[23.804, -0.804],
    tickvals=list(range(24)),
    ticktext=hour_labels,
    ticks="outside",
    ticklen=5,
    tickwidth=1,
    tickcolor="black",
    tickfont=dict(size=8.9),
    showgrid=False,
    zeroline=False,
    showline=True,
    linecolor="black",
    linewidth=1,
    mirror=True,
    title=dict(text="UTC (local time = UTC - 01:00)", font=dict(size=11.1), standoff=4),
)

fig.write_html("out.html", config=dict(displayModeBar=False),
               post_script="document.body.style.margin = '0';")
